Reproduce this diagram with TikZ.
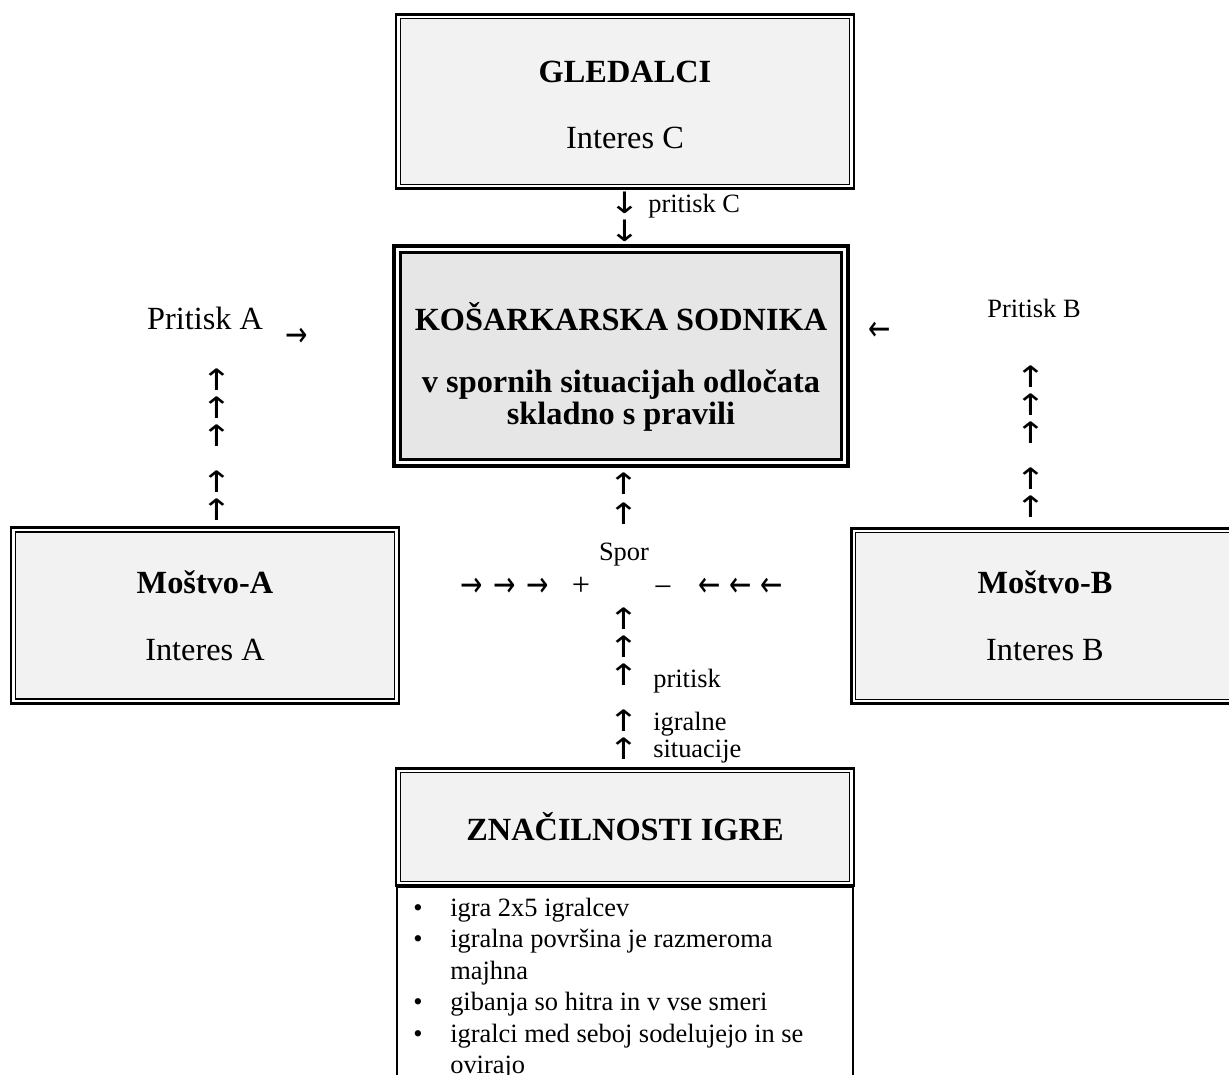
\documentclass[tikz,border=0pt]{standalone}
\usepackage{fontspec}
\usepackage{graphicx}
\setmainfont{Liberation Serif}
\newfontfamily\pfeilfont{DejaVu Sans}
\definecolor{boxgrau}{HTML}{F2F2F2}
\definecolor{sodgrau}{HTML}{E6E6E6}
\newcommand{\gross}{\fontsize{23pt}{22.8pt}\selectfont}
\newcommand{\klein}{\fontsize{18.8pt}{22.3pt}\selectfont}
\newcommand{\pfeile}{\pfeilfont\fontsize{21pt}{19.9pt}\selectfont}
% male puscice
\newcommand{\gor}{\scalebox{1.25}[1]{↑}}
\newcommand{\dol}{\scalebox{1.25}[1]{↓}}
\newcommand{\desno}{\scalebox{1}[1.3]{\fontsize{19pt}{19.9pt}\selectfont →}}
\newcommand{\levo}{\scalebox{1}[1.3]{\fontsize{19pt}{19.9pt}\selectfont ←}}
\newcommand{\pika}{\makebox[0.925cm][l]{\textbullet}}

\tikzset{
  okno/.style={draw, line width=0.9pt, fill=boxgrau, outer sep=0pt, align=center, font=\gross},
  zunaj/.style={line width=1.8pt},
  puscica/.style={font=\pfeile, align=center, inner sep=0pt},
  napis/.style={font=\klein, inner sep=0pt},
}

\begin{document}
\begin{tikzpicture}[x=0.025cm, y=-0.025cm]
\useasboundingbox (0,0) rectangle (1229,1075);

% gledalci
\node[okno, minimum width=11.225cm, minimum height=4.15cm] (gledalci) at (625,101.5) {\rule{0pt}{20pt}\textbf{GLEDALCI}\\[24pt] Interes C};
\draw[zunaj] ([shift={(-3pt,-3pt)}]gledalci.south west) rectangle ([shift={(3pt,3pt)}]gledalci.north east);

% sodnika
\node[okno, fill=sodgrau, line width=1.9pt, minimum width=11.015cm, minimum height=5.165cm, font=\gross\bfseries] (sodnika) at (621,356) {\rule{0pt}{35pt}KOŠARKARSKA SODNIKA\\[21.3pt]
v spornih situacijah odločata\\
skladno s pravili};
\draw[line width=2.9pt] ([shift={(-4.7pt,-4.7pt)}]sodnika.south west) rectangle ([shift={(4.7pt,4.7pt)}]sodnika.north east);

% mostvo A in B
\node[okno, minimum width=9.475cm, minimum height=4.175cm] (mostvoA) at (205,615.5) {\textbf{Moštvo-A}\\[24.8pt] Interes A};
\draw[zunaj] ([shift={(-3pt,-3pt)}]mostvoA.south west) rectangle ([shift={(3pt,3pt)}]mostvoA.north east);
\node[okno, minimum width=9.475cm, minimum height=4.175cm] (mostvoB) at (1045,616) {\textbf{Moštvo-B}\\[24.8pt] Interes B};
\draw[zunaj] ([shift={(-3pt,-3pt)}]mostvoB.south west) rectangle ([shift={(3pt,3pt)}]mostvoB.north east);

% znacilnosti igre
\node[okno, minimum width=11.225cm, minimum height=2.725cm, font=\gross\bfseries] (znacilnosti) at (625,827) {ZNAČILNOSTI IGRE};
\draw[zunaj] ([shift={(-3pt,-3pt)}]znacilnosti.south west) rectangle ([shift={(3pt,3pt)}]znacilnosti.north east);
\node[draw, line width=1.1pt, minimum width=11.4cm, minimum height=7.5cm, anchor=north, outer sep=0pt] (okvir) at (625,887) {};
\node[napis, anchor=north west, align=left] (seznam) at (413,898) {
\pika igra 2x5 igralcev\\
\pika igralna površina je razmeroma\\
\hspace*{0.925cm}majhna\\
\pika gibanja so hitra in v vse smeri\\
\pika igralci med seboj sodelujejo in se\\
\hspace*{0.925cm}ovirajo};

% pritisk C
\node[puscica] (pusC) at (625,217) {\dol\\\dol};
\node[napis, anchor=base west] (pritiskC) at (648,213) {pritisk C};

% pritisk A
\node[font=\gross, anchor=base, inner sep=0pt] (pritiskA) at (205,330) {Pritisk A};
\node[puscica] (pusA) at (297,337) {\desno};
\node[puscica] (stolpecA) at (217,445) {\gor\\\gor\\\gor\\[12.8pt]\gor\\\gor};

% pritisk B
\node[napis, anchor=base] (pritiskB) at (1034,318) {Pritisk B};
\node[puscica] (pusB) at (880,331) {\levo};
\node[puscica] (stolpecB) at (1031,442) {\gor\\\gor\\\gor\\[12.8pt]\gor\\\gor};

% spor
\node[puscica] (pusSpor) at (624,499) {\gor\\[1.4pt]\gor};
\node[napis, anchor=base] (spor) at (624,560) {Spor};
\node[puscica] (plusP) at (505,587) {\desno\hspace{7.5pt}\desno\hspace{7.5pt}\desno};
\node[font=\gross, anchor=base, inner sep=0pt] (plus) at (581,595) {+};
\node[font=\gross, anchor=base, inner sep=0pt] (minus) at (663,597) {−};
\node[puscica] (minusP) at (741,587) {\levo\hspace{6pt}\levo\hspace{6pt}\levo};

% igralne situacije
\node[puscica] (stolpecS) at (624,683.5) {\gor\\\gor\\\gor\\[12.8pt]\gor\\\gor};
\node[napis, anchor=base west] (pritisk) at (653,687) {pritisk};
\node[napis, anchor=base west] (igralne) at (653,730) {igralne};
\node[napis, anchor=base west] (situacije) at (653,757) {situacije};
\end{tikzpicture}
\end{document}
